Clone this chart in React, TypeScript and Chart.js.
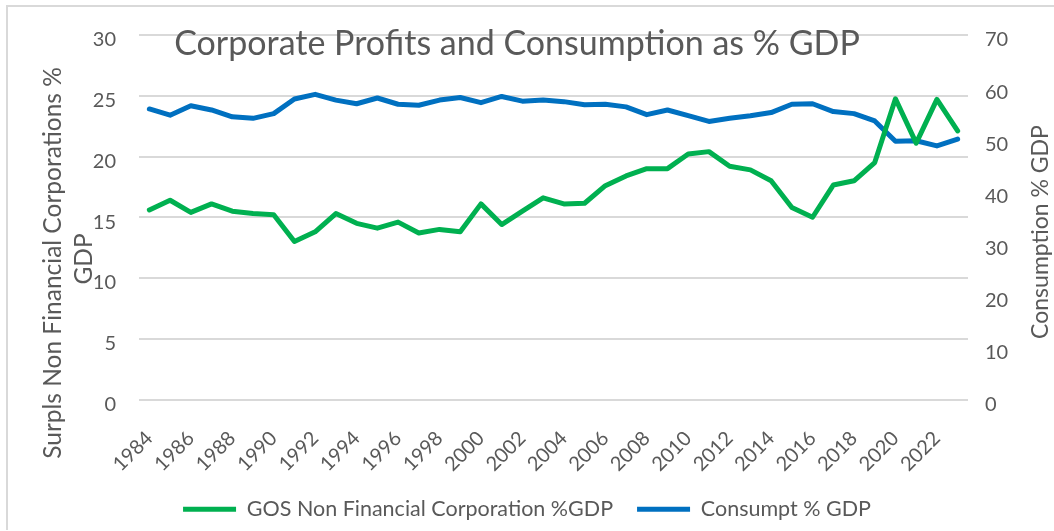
import { useEffect, useRef } from 'react';
import { Chart, registerables } from 'chart.js';

Chart.register(...registerables);

const years = [
  '1984', '1985', '1986', '1987', '1988', '1989', '1990', '1991', '1992', '1993',
  '1994', '1995', '1996', '1997', '1998', '1999', '2000', '2001', '2002', '2003',
  '2004', '2005', '2006', '2007', '2008', '2009', '2010', '2011', '2012', '2013',
  '2014', '2015', '2016', '2017', '2018', '2019', '2020', '2021', '2022', '2023',
];

const gosValues = [
  15.6, 16.4, 15.4, 16.1, 15.5, 15.3, 15.2, 13.0, 13.8, 15.3,
  14.5, 14.1, 14.6, 13.7, 14.0, 13.8, 16.1, 14.4, 15.5, 16.6,
  16.1, 16.15, 17.6, 18.4, 19.0, 19.0, 20.2, 20.4, 19.2, 18.9,
  18.0, 15.8, 15.0, 17.65, 18.0, 19.5, 24.75, 21.1, 24.7, 22.1,
];

const consumptionValues = [
  55.8, 54.6, 56.4, 55.6, 54.3, 54.0, 54.9, 57.7, 58.6, 57.5,
  56.8, 57.9, 56.7, 56.5, 57.5, 58.0, 57.0, 58.2, 57.3, 57.5,
  57.2, 56.6, 56.7, 56.2, 54.7, 55.6, 54.5, 53.4, 54.0, 54.5,
  55.1, 56.7, 56.8, 55.3, 54.9, 53.5, 49.6, 49.7, 48.7, 50.0,
];

const seriesNames = ['GOS Non Financial Corporation %GDP', 'Consumpt % GDP'];
const chartTitle = 'Corporate Profits and Consumption as % GDP';
const leftAxisTitle = ['Surpls Non Financial Corporations %', 'GDP'];
const rightAxisTitle = 'Consumption % GDP';

const TEXT = '#595959';
const GRID = '#d9d9d9';
const FONT = 'Lato';

const decorPlugin = {
  id: 'decor',
  beforeDraw(chart: any) {
    const ctx = chart.ctx;
    ctx.save();
    ctx.fillStyle = '#ffffff';
    ctx.fillRect(0, 0, chart.width, chart.height);
    ctx.strokeStyle = GRID;
    ctx.lineWidth = 2;
    ctx.strokeRect(7, 6, 3000, 3000);
    ctx.restore();
  },
  afterDraw(chart: any) {
    const ctx = chart.ctx;
    ctx.save();
    ctx.fillStyle = TEXT;
    // chart title
    ctx.font = `34px ${FONT}`;
    ctx.textAlign = 'center';
    ctx.textBaseline = 'alphabetic';
    ctx.fillText(chartTitle, 517, 55);

    // left axis title (two lines, reading bottom to top)
    ctx.font = `24.5px ${FONT}`;
    ctx.textBaseline = 'middle';
    ctx.save();
    ctx.translate(53, 263);
    ctx.rotate(-Math.PI / 2);
    ctx.fillText(leftAxisTitle[0], 0, 0);
    ctx.restore();
    ctx.save();
    ctx.translate(84, 259);
    ctx.rotate(-Math.PI / 2);
    ctx.fillText(leftAxisTitle[1], 0, 0);
    ctx.restore();

    // right axis title
    ctx.font = `23px ${FONT}`;
    ctx.save();
    ctx.translate(1041, 232);
    ctx.rotate(-Math.PI / 2);
    ctx.fillText(rightAxisTitle, 0, 0);
    ctx.restore();
    ctx.restore();
  },
};

export default function App() {
  const canvasRef = useRef<HTMLCanvasElement | null>(null);

  useEffect(() => {
    const canvas = canvasRef.current;
    if (!canvas) return;
    const chart = new Chart(canvas, {
      type: 'line',
      data: {
        labels: years,
        datasets: [
          {
            label: seriesNames[0],
            data: gosValues,
            borderColor: '#00b050',
            backgroundColor: '#00b050',
            borderWidth: 5,
            pointRadius: 0,
            tension: 0,
            borderCapStyle: 'round',
            borderJoinStyle: 'round',
            yAxisID: 'y',
          },
          {
            label: seriesNames[1],
            data: consumptionValues,
            borderColor: '#0070c0',
            backgroundColor: '#0070c0',
            borderWidth: 5,
            pointRadius: 0,
            tension: 0,
            borderCapStyle: 'round',
            borderJoinStyle: 'round',
            yAxisID: 'y1',
          },
        ],
      },
      options: {
        responsive: false,
        animation: false,
        layout: { padding: { top: 34, left: 0, right: 0, bottom: 0 } },
        plugins: {
          title: { display: false },
          tooltip: { enabled: false },
          legend: {
            position: 'bottom',
            labels: {
              usePointStyle: true,
              pointStyle: 'line',
              pointStyleWidth: 53,
              padding: 24,
              color: TEXT,
              font: { family: FONT, size: 21.5 },
            },
          },
        },
        scales: {
          x: {
            offset: true,
            grid: { display: false, drawTicks: false },
            border: { display: false },
            ticks: {
              autoSkip: false,
              minRotation: 45,
              maxRotation: 45,
              padding: 27,
              color: TEXT,
              font: { family: FONT, size: 20 },
              callback: (_v: any, i: number) => (i % 2 === 0 ? years[i] : ''),
            },
            afterFit: (scale: any) => {
              scale.height = 75;
            },
          },
          y: {
            position: 'left',
            min: 0,
            max: 30,
            grid: { color: GRID, lineWidth: 2, drawTicks: false },
            border: { display: false },
            ticks: {
              stepSize: 5,
              padding: 23,
              labelOffset: 5,
              color: TEXT,
              font: { family: FONT, size: 20 },
            },
            afterFit: (scale: any) => {
              scale.width = 139;
            },
          },
          y1: {
            position: 'right',
            min: 0,
            max: 70,
            grid: { display: false, drawTicks: false },
            border: { display: false },
            ticks: {
              stepSize: 10,
              padding: 17,
              labelOffset: 5,
              color: TEXT,
              font: { family: FONT, size: 20 },
            },
            afterFit: (scale: any) => {
              scale.width = 86;
            },
          },
        },
      },
      plugins: [decorPlugin],
    } as any);
    return () => chart.destroy();
  }, []);

  return (
    <div
      style={{
        position: 'fixed',
        left: 0,
        top: 0,
        width: 1054,
        height: 531,
        overflow: 'hidden',
        background: '#ffffff',
      }}
    >
      <canvas ref={canvasRef} width={1054} height={530} style={{ display: 'block' }} />
    </div>
  );
}
